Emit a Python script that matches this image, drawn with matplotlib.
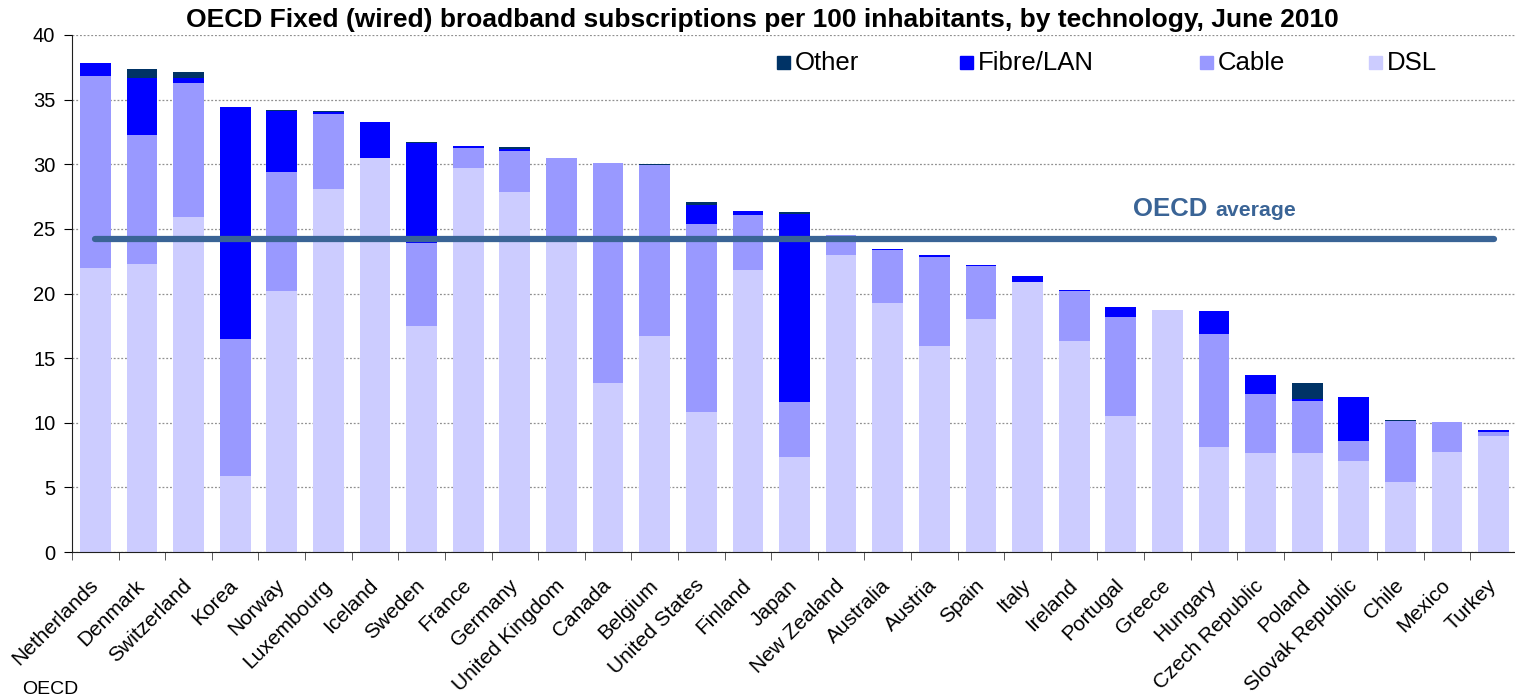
import matplotlib
matplotlib.use("Agg")
import matplotlib.pyplot as plt
from matplotlib.patches import Rectangle
import numpy as np

plt.rcParams['font.family'] = ['Liberation Sans', 'DejaVu Sans']

countries = ["Netherlands", "Denmark", "Switzerland", "Korea", "Norway", "Luxembourg",
             "Iceland", "Sweden", "France", "Germany", "United Kingdom", "Canada",
             "Belgium", "United States", "Finland", "Japan", "New Zealand", "Australia",
             "Austria", "Spain", "Italy", "Ireland", "Portugal", "Greece", "Hungary",
             "Czech Republic", "Poland", "Slovak Republic", "Chile", "Mexico", "Turkey"]

dsl = [22.0, 22.3, 25.9, 5.9, 20.2, 28.05, 30.5, 17.5, 29.7, 27.85, 24.2, 13.1, 16.7,
       10.85, 21.8, 7.35, 22.97, 19.23, 15.9, 18.0, 20.86, 16.3, 10.5, 18.7, 8.15,
       7.68, 7.63, 7.04, 5.41, 7.76, 9.0]
cable = [14.84, 10.0, 10.4, 10.6, 9.2, 5.85, 0.0, 6.4, 1.55, 3.15, 6.3, 17.0, 13.25,
         14.55, 4.25, 4.25, 1.53, 4.15, 6.92, 4.12, 0.0, 3.92, 7.68, 0.0, 8.69,
         4.54, 4.02, 1.54, 4.72, 2.27, 0.26]
fibre = [0.96, 4.4, 0.4, 17.9, 4.75, 0.15, 2.8, 7.73, 0.15, 0.15, 0.0, 0.0, 0.0,
         1.45, 0.3, 14.52, 0.0, 0.05, 0.13, 0.08, 0.49, 0.08, 0.75, 0.0, 1.8,
         1.5, 0.18, 3.42, 0.0, 0.0, 0.15]
other = [0.0, 0.65, 0.4, 0.0, 0.05, 0.05, 0.0, 0.13, 0.0, 0.15, 0.0, 0.0, 0.1,
         0.25, 0.0, 0.15, 0.0, 0.0, 0.0, 0.0, 0.0, 0.0, 0.0, 0.0, 0.0,
         0.0, 1.22, 0.0, 0.05, 0.05, 0.0]
oecd_average = 24.2

yticks = [0, 5, 10, 15, 20, 25, 30, 35, 40]
legend_labels = ['Other', 'Fibre/LAN', 'Cable', 'DSL']

c_dsl = '#CCCCFF'
c_cable = '#9999FF'
c_fibre = '#0000FF'
c_other = '#003366'
c_avg = '#3A6496'
legend_colors = [c_other, c_fibre, c_cable, c_dsl]

W, H = 1515, 700
fig = plt.figure(figsize=(W / 100, H / 100), dpi=100)
ax = fig.add_axes([72 / W, 1 - 552 / H, 1445 / W, 517 / H])

x = np.arange(len(countries))
w = 0.66
b1 = np.array(dsl)
b2 = b1 + np.array(cable)
b3 = b2 + np.array(fibre)
ax.bar(x, dsl, w, color=c_dsl, zorder=2)
ax.bar(x, cable, w, bottom=b1, color=c_cable, zorder=2)
ax.bar(x, fibre, w, bottom=b2, color=c_fibre, zorder=2)
ax.bar(x, other, w, bottom=b3, color=c_other, zorder=2)

ax.plot([x[0], x[-1]], [oecd_average, oecd_average], color=c_avg, lw=4.5,
        solid_capstyle='round', zorder=3)
fig.text(1133 / W, 1 - 209 / H, 'OECD', color=c_avg, fontsize=18.5,
         fontweight='bold', va='center', ha='left')
fig.text(1215 / W, 1 - 211 / H, 'average', color=c_avg, fontsize=15.3,
         fontweight='bold', va='center', ha='left')

ax.set_xlim(-0.5, len(countries) - 0.5)
ax.set_ylim(0, 40)
ax.set_yticks(yticks)
ax.set_yticklabels([str(t) for t in yticks], fontsize=14.5)
ax.yaxis.grid(True, linestyle=(0, (1.5, 1.5)), color='#909090', lw=0.9, zorder=0)
ax.set_axisbelow(True)

ax.set_xticks(x)
ax.set_xticklabels(countries, rotation=45, ha='right', va='center',
                   rotation_mode='anchor', fontsize=15)
ax.tick_params(axis='x', which='major', length=0, pad=22)
ax.set_xticks(np.arange(-0.5, len(countries), 1.0), minor=True)
ax.tick_params(axis='x', which='minor', length=6, direction='out', color='#404040')
ax.tick_params(axis='y', length=6, direction='out', pad=6)

for s in ['top', 'right']:
    ax.spines[s].set_visible(False)
ax.spines['left'].set_color('#202020')
ax.spines['bottom'].set_color('#202020')

# legend (manual placement)
sq_x = [777, 960, 1200, 1369]
for lx, lab, col in zip(sq_x, legend_labels, legend_colors):
    fig.add_artist(Rectangle(((lx) / W, 1 - 69 / H), 13 / W, 13 / H,
                             transform=fig.transFigure, color=col))
    fig.text((lx + 18) / W, 1 - 63 / H, lab, ha='left', va='center', fontsize=18.5)

fig.text(762 / W, 1 - 20 / H,
         'OECD Fixed (wired) broadband subscriptions per 100 inhabitants, by technology, June 2010',
         ha='center', va='center', fontsize=19, fontweight='bold')
fig.text(22 / W, 1 - 698 / H, 'OECD', ha='left', va='bottom', fontsize=14)

fig.savefig('out.png', dpi=100)
